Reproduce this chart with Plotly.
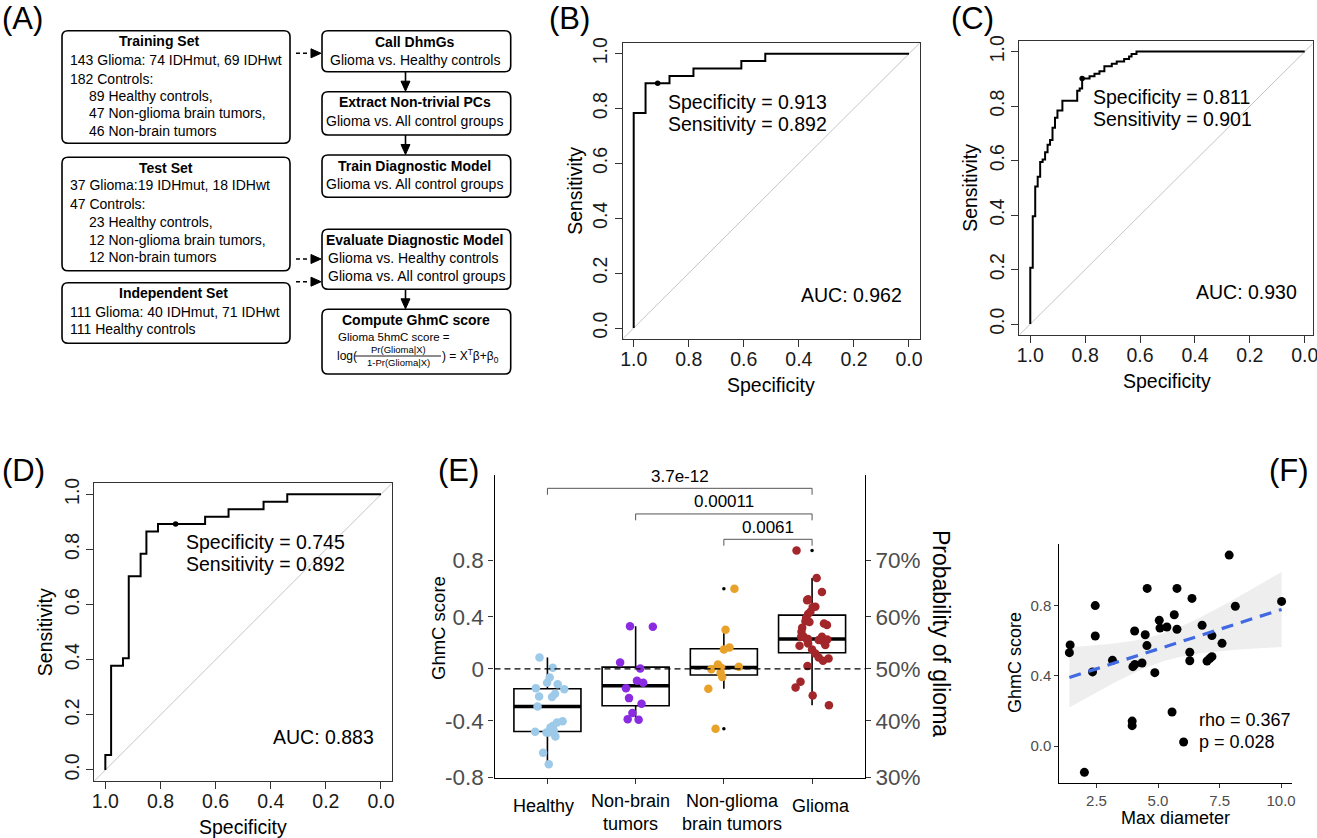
import numpy as np
import plotly.graph_objects as go

W, H = 1317, 838
FONT = "Liberation Sans, Arial, Helvetica, sans-serif"

# ---------------- data ----------------
# ROC step-curve vertices (specificity, sensitivity)
roc_b_spec = [1.000, 0.957, 0.870, 0.783, 0.609, 0.522, 0.000]
roc_b_sens = [0.000, 0.784, 0.892, 0.919, 0.946, 0.973, 1.000]
roc_b_best = [0.913, 0.892]
roc_b_auc = 0.962

roc_c_spec = [1.000, 0.991, 0.982, 0.973, 0.964, 0.955, 0.946, 0.937, 0.928, 0.919,
              0.910, 0.901, 0.883, 0.829, 0.820, 0.811, 0.784, 0.766, 0.748, 0.730,
              0.703, 0.685, 0.658, 0.640, 0.631, 0.613, 0.000]
roc_c_sens = [0.000, 0.207, 0.396, 0.505, 0.541, 0.595, 0.604, 0.631, 0.658, 0.676,
              0.721, 0.757, 0.784, 0.820, 0.856, 0.865, 0.901, 0.910, 0.919, 0.928,
              0.946, 0.955, 0.964, 0.973, 0.982, 0.991, 1.000]
roc_c_best = [0.811, 0.901]
roc_c_auc = 0.930

roc_d_spec = [1.000, 0.979, 0.936, 0.915, 0.872, 0.851, 0.809, 0.638, 0.553, 0.426, 0.340, 0.000]
roc_d_sens = [0.000, 0.054, 0.378, 0.405, 0.703, 0.784, 0.865, 0.892, 0.919, 0.946, 0.973, 1.000]
roc_d_best = [0.745, 0.892]
roc_d_auc = 0.883

roc_ticks = [1.0, 0.8, 0.6, 0.4, 0.2, 0.0]
roc_ticktext = ["1.0", "0.8", "0.6", "0.4", "0.2", "0.0"]

# Panel E: GhmC scores by group (value, horizontal jitter)
e_groups = ["Healthy", "Non-brain<br>tumors", "Non-glioma<br>brain tumors", "Glioma"]
e_colors = ["#9DCAE8", "#8A2BE2", "#E9A229", "#A3262A"]
healthy_vals = [0.089, 0.008, -0.068, -0.109, -0.120, -0.151, -0.159, -0.195, -0.216, -0.221,
                -0.294, -0.409, -0.419, -0.445, -0.458, -0.471, -0.482, -0.492, -0.497, -0.497,
                -0.529, -0.656, -0.745]
healthy_jit = [-0.090, 0.060, 0.026, -0.004, 0.116, -0.131, 0.191, 0.086, -0.094, 0.052,
               -0.112, 0.172, 0.109, 0.064, 0.034, 0.041, 0.071, -0.139, 0.015, -0.011,
               0.090, -0.049, 0.015]
nonbrain_vals = [0.333, 0.328, 0.049, 0.003, -0.094, -0.109, -0.151, -0.229, -0.273, -0.346, -0.393, -0.398]
nonbrain_jit = [-0.064, 0.195, -0.176, 0.052, 0.015, 0.086, -0.109, -0.075, 0.067, -0.037, -0.090, 0.034]
nonglioma_vals = [0.625, 0.305, 0.167, 0.151, 0.034, 0.008, -0.003, 0.016, -0.031, -0.065, -0.156, -0.469]
nonglioma_jit = [0.120, 0.019, 0.064, 0.000, -0.067, -0.030, -0.142, 0.169, -0.037, -0.019, -0.176, -0.094]
glioma_vals = [0.924, 0.708, 0.599, 0.542, 0.484, 0.427, 0.396, 0.372, 0.341, 0.354,
               0.320, 0.289, 0.250, 0.232, 0.250, 0.229, 0.211, 0.198, 0.180, 0.185,
               0.151, 0.120, 0.089, 0.081, 0.063, 0.021, -0.102, -0.146, -0.208, -0.284,
               0.536, 0.445, 0.482, 0.250, 0.224, 0.224, 0.365]
glioma_jit = [-0.176, 0.052, 0.112, -0.045, 0.037, -0.045, -0.067, -0.075, 0.169, 0.135,
              -0.112, -0.120, -0.124, -0.045, 0.112, 0.172, 0.131, -0.045, -0.142, 0.150,
              0.000, 0.037, 0.075, 0.187, 0.124, -0.052, -0.131, -0.187, 0.007, 0.191,
              -0.056, -0.019, 0.007, -0.094, 0.075, -0.056, -0.030]
box_q1 = [-0.490, -0.289, -0.049, 0.125]
box_med = [-0.294, -0.133, 0.010, 0.232]
box_q3 = [-0.156, 0.013, 0.156, 0.419]
e_pvals = [("3.7e-12", 1, 4), ("0.00011", 2, 4), ("0.0061", 3, 4)]
prob_ticks = [0.3, 0.4, 0.5, 0.6, 0.7]
score_ticktext = ["-0.8", "-0.4", "0", "0.4", "0.8"]
prob_ticktext = ["30%", "40%", "50%", "60%", "70%"]

# Panel F: max diameter vs GhmC score
f_diam = [1.43, 1.40, 2.01, 2.34, 2.45, 2.45, 3.15, 3.95, 3.95, 3.98,
          4.06, 4.05, 4.35, 4.48, 4.55, 4.56, 4.87, 5.05, 5.08, 5.36,
          5.57, 5.66, 5.77, 5.77, 6.04, 6.29, 6.29, 6.38, 6.79, 6.99,
          7.10, 7.19, 7.19, 7.60, 7.89, 8.14, 10.02]
f_score = [0.576, 0.532, -0.150, 0.422, 0.800, 0.627, 0.488, 0.142, 0.116, 0.452,
           0.465, 0.655, 0.473, 0.634, 0.572, 0.898, 0.418, 0.716, 0.672, 0.678,
           0.194, 0.748, 0.898, 0.665, 0.023, 0.534, 0.486, 0.841, 0.688, 0.484,
           0.498, 0.629, 0.509, 0.585, 1.088, 0.796, 0.824]
f_rho = 0.367
f_p = 0.028

# ---------------- helpers ----------------
def px(x):
    return x / W


def py(y):
    return 1 - y / H


annotations = []
shapes = []


def T(x, y, s, size=14, xa="left", color="black", angle=0, ya="middle"):
    annotations.append(dict(x=px(x), y=py(y), xref="paper", yref="paper", text=s,
                            showarrow=False, xanchor=xa, yanchor=ya, textangle=angle,
                            font=dict(family=FONT, size=size, color=color)))


def path_of(points, close=True):
    s = "M " + " L ".join("%.5f,%.5f" % (px(a), py(b)) for a, b in points)
    return s + (" Z" if close else "")


def rrect(x0, y0, x1, y1, r=6):
    pts = [("M", [(x0 + r, y0)]), ("L", [(x1 - r, y0)]), ("Q", [(x1, y0), (x1, y0 + r)]),
           ("L", [(x1, y1 - r)]), ("Q", [(x1, y1), (x1 - r, y1)]), ("L", [(x0 + r, y1)]),
           ("Q", [(x0, y1), (x0, y1 - r)]), ("L", [(x0, y0 + r)]), ("Q", [(x0, y0), (x0 + r, y0)])]
    path = ""
    for cmd, ps in pts:
        path += cmd + " " + " ".join("%.5f,%.5f" % (px(a), py(b)) for a, b in ps) + " "
    path += "Z"
    shapes.append(dict(type="path", path=path, xref="paper", yref="paper",
                       line=dict(color="black", width=1.6), fillcolor="rgba(0,0,0,0)"))


def head(x_tip, y_tip, direction, L=10, half=4.5):
    if direction == "down":
        pts = [(x_tip, y_tip), (x_tip - half, y_tip - L), (x_tip + half, y_tip - L)]
    else:  # right
        pts = [(x_tip, y_tip), (x_tip - L, y_tip - half), (x_tip - L, y_tip + half)]
    shapes.append(dict(type="path", path=path_of(pts), xref="paper", yref="paper",
                       line=dict(color="black", width=1), fillcolor="black"))


def down_arrow(x, y0, y1):
    shapes.append(dict(type="line", xref="paper", yref="paper", x0=px(x), x1=px(x),
                       y0=py(y0), y1=py(y1 - 8), line=dict(color="black", width=1.6)))
    head(x, y1, "down")


def dashed_arrow(y):
    shapes.append(dict(type="line", xref="paper", yref="paper", x0=px(296), x1=px(310),
                       y0=py(y), y1=py(y), line=dict(color="black", width=1.6, dash="4px,3px")))
    head(321, y, "right")


# ---------------- panel A: flowchart ----------------
rrect(62, 30.7, 290, 143.3)
rrect(62, 157.3, 290, 270.7)
rrect(62, 282.7, 290, 343.3)
rrect(322, 30.7, 510.7, 71.7)
rrect(322, 91.7, 510.7, 135)
rrect(322, 155, 510.7, 197.3)
rrect(322, 229.3, 510.7, 289.3)
rrect(322, 309.3, 510.7, 374)

fs = 14
T(158.7, 41.3, "<b>Training Set</b>", fs, "center")
T(68, 60, "143 Glioma: 74 IDHmut, 69 IDHwt", fs)
T(68, 78.7, "182 Controls:", fs)
T(87, 96, "89 Healthy controls,", fs)
T(87, 113.3, "47 Non-glioma brain tumors,", fs)
T(87, 130.7, "46 Non-brain tumors", fs)

T(165.5, 168.3, "<b>Test Set</b>", fs, "center")
T(68, 185.3, "37 Glioma:19 IDHmut, 18 IDHwt", fs)
T(68, 204, "47 Controls:", fs)
T(87, 221.7, "23 Healthy controls,", fs)
T(87, 240, "12 Non-glioma brain tumors,", fs)
T(87, 257.3, "12 Non-brain tumors", fs)

T(173, 293.3, "<b>Independent Set</b>", fs, "center")
T(68, 311.7, "111 Glioma: 40 IDHmut, 71 IDHwt", fs)
T(68, 329, "111 Healthy controls", fs)

T(414.5, 41.7, "<b>Call DhmGs</b>", fs, "center")
T(414.5, 60, "Glioma vs. Healthy controls", fs, "center")
T(414.5, 102, "<b>Extract Non-trivial PCs</b>", fs, "center")
T(414.5, 120.7, "Glioma vs. All control groups", fs, "center")
T(414.5, 166, "<b>Train Diagnostic Model</b>", fs, "center")
T(414.5, 184.3, "Glioma vs. All control groups", fs, "center")
T(414.5, 240, "<b>Evaluate Diagnostic Model</b>", fs, "center")
T(326, 258.3, "Glioma vs. Healthy controls", fs)
T(326, 276, "Glioma vs. All control groups", fs)
T(415.5, 320, "<b>Compute GhmC score</b>", fs, "center")
T(336, 337.3, "Glioma 5hmC score =", 11.5)
T(335, 356, "log(", 12)
T(398, 349.3, "Pr(Glioma|X)", 9.5, "center")
T(398, 363, "1-Pr(Glioma|X)", 9.5, "center")
shapes.append(dict(type="line", xref="paper", yref="paper", x0=px(355), x1=px(441),
                   y0=py(356), y1=py(356), line=dict(color="black", width=0.9)))
T(440, 356, ") = X<sup>T</sup>β+β<sub>0</sub>", 12)

down_arrow(405.5, 71.7, 91.2)
down_arrow(405.5, 135, 154.5)
down_arrow(405.5, 289.3, 308.8)
dashed_arrow(53.3)
dashed_arrow(259)
dashed_arrow(281.7)

# ---------------- ROC panels ----------------
fig = go.Figure()


def roc_panel(n, spec, sens, best, auc, dom, xr, yr, lab):
    xa = "x" if n == 1 else "x%d" % n
    ya = "y" if n == 1 else "y%d" % n
    fig.add_trace(go.Scatter(x=[xr[0], xr[1]], y=[1 - xr[0], 1 - xr[1]], mode="lines",
                             line=dict(color="#c4c4c4", width=1), xaxis=xa, yaxis=ya,
                             hoverinfo="skip"))
    fig.add_trace(go.Scatter(x=spec, y=sens, mode="lines",
                             line=dict(color="black", width=2, shape="vh"),
                             xaxis=xa, yaxis=ya))
    fig.add_trace(go.Scatter(x=[best[0]], y=[best[1]], mode="markers",
                             marker=dict(color="black", size=5.5), xaxis=xa, yaxis=ya))
    x0, y0, x1, y1 = dom
    common = dict(showgrid=False, zeroline=False, showline=True, mirror=True,
                  linecolor="#333", linewidth=1, ticks="outside", ticklen=7,
                  tickwidth=1, tickcolor="#333", automargin=False,
                  ticklabeloverflow="allow",
                  tickfont=dict(family=FONT, size=19.5, color="#1a1a1a"))
    fig.update_layout(**{
        ("xaxis" if n == 1 else "xaxis%d" % n): dict(
            domain=[px(x0), px(x1)], range=xr, anchor=ya, tickvals=roc_ticks,
            ticktext=roc_ticktext, tickangle=0, ticklabelstandoff=-4, **common),
        ("yaxis" if n == 1 else "yaxis%d" % n): dict(
            domain=[py(y1), py(y0)], range=yr, anchor=xa, tickvals=roc_ticks,
            ticktext=roc_ticktext, tickangle=-90, ticklabelstandoff=0, **common),
    })
    # labels
    T(lab["sx"], lab["sy"], "Specificity = %.3f" % best[0], 19.5)
    T(lab["sx"], lab["sy"] + 22.5, "Sensitivity = %.3f" % best[1], 19.5)
    T(lab["ax"], lab["ay"], "AUC: %.3f" % auc, 19.5)
    T((x0 + x1) / 2 + lab["tx"], lab["xt"], "Specificity", 19.5, "center")
    T(lab["yt"], (y0 + y1) / 2, "Sensitivity", 19.5, "center", angle=-90)


roc_panel(1, roc_b_spec, roc_b_sens, roc_b_best, roc_b_auc,
          (622.7, 42.7, 920, 339), [1.04, -0.04], [-0.04, 1.04],
          dict(sx=666, sy=101.7, ax=799.3, ay=295, tx=0, xt=385, yt=575))
roc_panel(2, roc_c_spec, roc_c_sens, roc_c_best, roc_c_auc,
          (1019.3, 40.7, 1312.7, 335), [1.04, -0.029], [-0.04, 1.04],
          dict(sx=1091, sy=96.7, ax=1194.3, ay=291.7, tx=1, xt=381, yt=970))
roc_panel(3, roc_d_spec, roc_d_sens, roc_d_best, roc_d_auc,
          (94.3, 483.3, 392, 781), [1.04, -0.04], [-0.04, 1.04],
          dict(sx=184, sy=541.7, ax=270.7, ay=736.7, tx=0, xt=826.7, yt=45))

# ---------------- panel E ----------------
e_vals = [healthy_vals, nonbrain_vals, nonglioma_vals, glioma_vals]
e_jits = [healthy_jit, nonbrain_jit, nonglioma_jit, glioma_jit]
pos = [1, 2, 3, 4]
bw = 0.76
lo_f, hi_f, out_x, out_y = [], [], [], []
for i, v in enumerate(e_vals):
    v = np.array(v)
    iqr = box_q3[i] - box_q1[i]
    lo, hi = box_q1[i] - 1.5 * iqr, box_q3[i] + 1.5 * iqr
    inside = v[(v >= lo) & (v <= hi)]
    lo_f.append(float(inside.min()))
    hi_f.append(float(inside.max()))
    for o in v[(v < lo) | (v > hi)]:
        out_x.append(pos[i])
        out_y.append(float(o))

fig.add_trace(go.Box(x=pos, q1=box_q1, median=box_med, q3=box_q3, lowerfence=lo_f,
                     upperfence=hi_f, width=bw, fillcolor="white", boxpoints=False,
                     line=dict(color="black", width=1.6), whiskerwidth=0,
                     xaxis="x4", yaxis="y4"))
mx, my = [], []
for i in range(4):
    mx += [pos[i] - bw / 2, pos[i] + bw / 2, None]
    my += [box_med[i], box_med[i], None]
fig.add_trace(go.Scatter(x=mx, y=my, mode="lines", line=dict(color="black", width=3.6),
                         xaxis="x4", yaxis="y4"))
fig.add_trace(go.Scatter(x=out_x, y=out_y, mode="markers", marker=dict(color="black", size=3.5),
                         xaxis="x4", yaxis="y4"))
for i in range(4):
    fig.add_trace(go.Scatter(x=[pos[i] + j for j in e_jits[i]], y=e_vals[i], mode="markers",
                             marker=dict(color=e_colors[i], size=8.5),
                             xaxis="x4", yaxis="y4"))

shapes.append(dict(type="line", xref="x4", yref="y4", x0=0.4, x1=4.6, y0=0, y1=0,
                   line=dict(color="black", width=1.3, dash="6px,4px")))
br_y = [1.409, 1.209, 1.011]
for k, (lab, a, b) in enumerate(e_pvals):
    yb = br_y[k]
    for (xx0, yy0, xx1, yy1) in [(a, yb, b, yb), (a, yb, a, yb - 0.05), (b, yb, b, yb - 0.05)]:
        shapes.append(dict(type="line", xref="x4", yref="y4", x0=xx0, x1=xx1, y0=yy0, y1=yy1,
                           line=dict(color="#555", width=1)))
    annotations.append(dict(x=(a + b) / 2, y=yb + 0.005, xref="x4", yref="y4", text=lab,
                            showarrow=False, yanchor="bottom",
                            font=dict(family=FONT, size=17, color="black")))

logit_pos = [float(np.log(p / (1 - p))) for p in prob_ticks]
e_yr = [-0.855, 1.513]
fig.update_layout(
    xaxis4=dict(domain=[px(494.5), px(865)], range=[0.4, 4.6], anchor="y4",
                tickvals=pos, showticklabels=False, showgrid=False, zeroline=False,
                showline=True, linecolor="black", linewidth=1.2, ticks="outside",
                ticklen=5, tickcolor="#333", automargin=False),
    yaxis4=dict(domain=[py(778.3), py(475)], range=e_yr, anchor="x4",
                tickvals=logit_pos, ticktext=score_ticktext, showgrid=False, zeroline=False,
                showline=True, linecolor="black", linewidth=1.2, ticks="outside",
                ticklen=5, tickcolor="#333", automargin=False,
                tickfont=dict(family=FONT, size=22.5, color="#4d4d4d")),
    yaxis5=dict(overlaying="y4", side="right", range=e_yr, anchor="x4",
                tickvals=logit_pos, ticktext=prob_ticktext, showgrid=False, zeroline=False,
                showline=True, linecolor="black", linewidth=1.2, ticks="outside",
                ticklen=5, tickcolor="#333", automargin=False,
                tickfont=dict(family=FONT, size=22.5, color="#4d4d4d")),
)
fig.add_trace(go.Scatter(x=[None], y=[None], xaxis="x4", yaxis="y5"))
# category labels (placed as in the reference)
for lab, cx in zip(e_groups, [543, 630, 732, 821]):
    cy = 812.5 if "<br>" in lab else 806
    T(cx, cy, lab, 18, "center")
T(438, 628, "GhmC score", 18.5, "center", angle=-90)
T(941, 633, "Probability of glioma", 23, "center", angle=90)

# ---------------- panel F ----------------
fx = np.array(f_diam)
fy = np.array(f_score)
n = len(fx)
slope, intercept = np.polyfit(fx, fy, 1)
xs = np.linspace(fx.min(), fx.max(), 80)
yh = intercept + slope * xs
res = fy - (intercept + slope * fx)
s = np.sqrt(np.sum(res ** 2) / (n - 2))
sxx = np.sum((fx - fx.mean()) ** 2)
se = s * np.sqrt(1 / n + (xs - fx.mean()) ** 2 / sxx)
tq = 2.03
fig.add_trace(go.Scatter(x=xs, y=yh - tq * se, mode="lines", line=dict(width=0),
                         xaxis="x5", yaxis="y6", hoverinfo="skip"))
fig.add_trace(go.Scatter(x=xs, y=yh + tq * se, mode="lines", line=dict(width=0),
                         fill="tonexty", fillcolor="rgba(200,200,200,0.30)",
                         xaxis="x5", yaxis="y6", hoverinfo="skip"))
fig.add_trace(go.Scatter(x=f_diam, y=f_score, mode="markers",
                         marker=dict(color="black", size=9), xaxis="x5", yaxis="y6"))
fig.add_trace(go.Scatter(x=xs, y=yh, mode="lines",
                         line=dict(color="#4169E1", width=3.2, dash="12px,8px"),
                         xaxis="x5", yaxis="y6"))
fig.update_layout(
    xaxis5=dict(domain=[px(1059.3), px(1291.7)], range=[0.99, 10.43], anchor="y6",
                tickvals=[2.5, 5.0, 7.5, 10.0], ticktext=["2.5", "5.0", "7.5", "10.0"],
                showgrid=False, zeroline=False, showline=True, linecolor="black",
                linewidth=1.1, ticks="outside", ticklen=4, tickcolor="#333", automargin=False,
                tickfont=dict(family=FONT, size=15, color="#4d4d4d")),
    yaxis6=dict(domain=[py(783.3), py(544)], range=[-0.2125, 1.151], anchor="x5",
                tickvals=[0.0, 0.4, 0.8], ticktext=["0.0", "0.4", "0.8"],
                showgrid=False, zeroline=False, showline=True, linecolor="black",
                linewidth=1.1, ticks="outside", ticklen=4, tickcolor="#333", automargin=False,
                tickfont=dict(family=FONT, size=15, color="#4d4d4d")),
)
T(1197, 720, "rho = %.3f" % f_rho, 18)
T(1197, 741.7, "p = %.3f" % f_p, 18)
T(1015, 663, "GhmC score", 18, "center", angle=-90)
T(1175, 818, "Max diameter", 18, "center")

# panel letters
for lab, x, y in [("(A)", 0, 18), ("(B)", 547, 18), ("(C)", 949, 18),
                  ("(D)", 0, 471), ("(E)", 436, 471), ("(F)", 1267, 471)]:
    T(x, y, lab, 31)

fig.update_layout(width=W, height=H, margin=dict(l=0, r=0, t=0, b=0, pad=0),
                  autosize=False, showlegend=False, plot_bgcolor="white",
                  paper_bgcolor="white", annotations=annotations, shapes=shapes,
                  font=dict(family=FONT))
fig.write_html("out.html", config={"displayModeBar": False},
               post_script="document.body.style.margin='0';document.body.style.overflow='hidden';")
